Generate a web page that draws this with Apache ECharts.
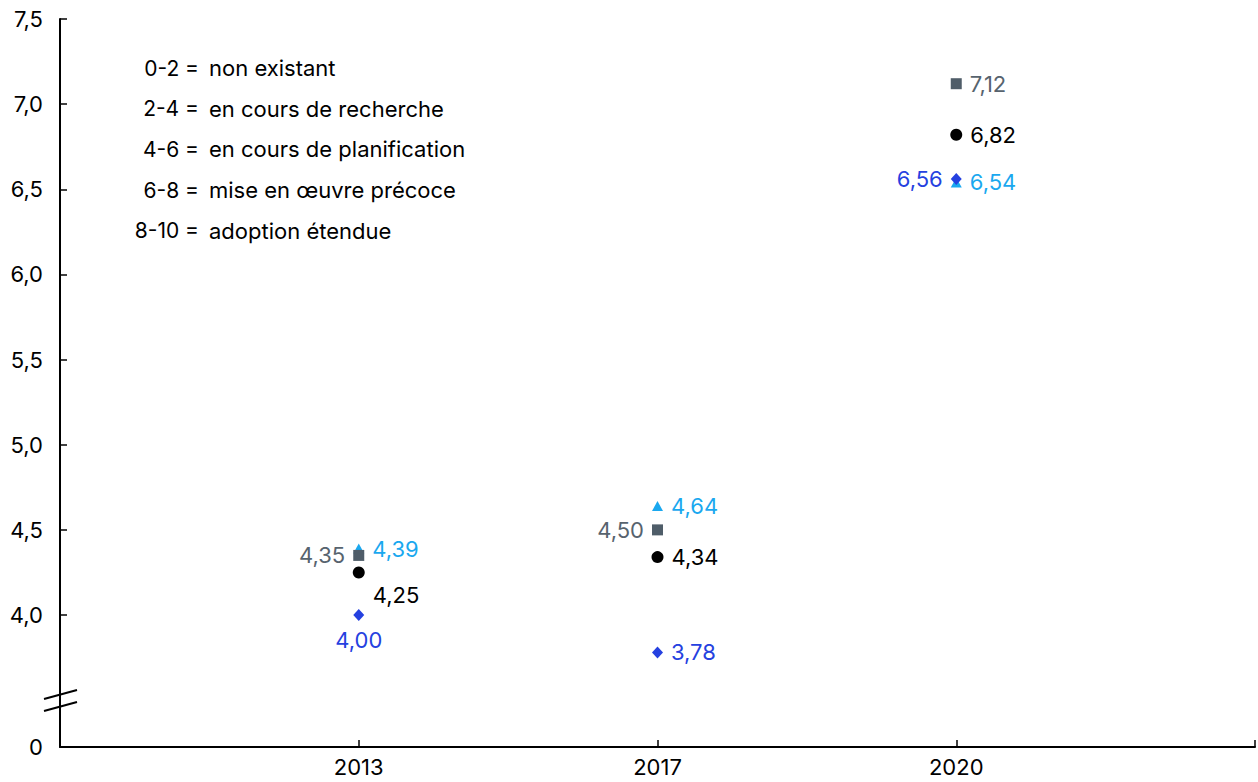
<!DOCTYPE html>
<html>
<head>
<meta charset="utf-8">
<script src="https://cdn.jsdelivr.net/npm/echarts@6/dist/echarts.min.js"></script>
<style>
  html, body { margin: 0; padding: 0; background: #fff; }
  #chart { width: 1258px; height: 782px; }
</style>
</head>
<body>
<div id="chart"></div>
<script>
// Survey years (padded with blank slots so the years sit inside the axis)
const years = ['2013', '2017', '2020'];
const xSlots = [''].concat(years, ['']);

// Average scores per group, one value per year
const seriesSquare   = [4.35, 4.50, 7.12];
const seriesCircle   = [4.25, 4.34, 6.82];
const seriesTriangle = [4.39, 4.64, 6.54];
const seriesDiamond  = [4.00, 3.78, 6.56];

// Y axis: broken scale, the bottom of the axis stands for 0
const yMin = 3.225;
const yMax = 7.5;
const yTickValues = [4.0, 4.5, 5.0, 5.5, 6.0, 6.5, 7.0, 7.5];
const yLabelValues = [yMin].concat(yTickValues);

// Scale key
const keyRanges = ['0-2 =', '2-4 =', '4-6 =', '6-8 =', '8-10 ='];
const keyTexts = ['non existant', 'en cours de recherche', 'en cours de planification',
                  'mise en œuvre précoce', 'adoption étendue'];

const FONT = 'Inter, "Liberation Sans", Arial, sans-serif';

function fmt(v) { return v.toFixed(2).replace('.', ','); }

// label placement per point (per year) for each group
const place = {
  square:   [{ position: 'left' }, { position: 'left' }, { position: 'right' }],
  circle:   [{ position: 'right', offset: [0, 23] }, { position: 'right' }, { position: 'right' }],
  triangle: [{ position: 'right' }, { position: 'right' }, { position: 'right' }],
  diamond:  [{ position: 'bottom', distance: 8 }, { position: 'right' }, { position: 'left' }]
};

function build(values, placement) {
  return values.map((v, i) => ({
    value: [years[i], v],
    label: Object.assign({ distance: 8 }, placement[i])
  }));
}

function scatter(name, values, placement, symbol, size, color, labelColor) {
  return {
    name: name,
    type: 'scatter',
    symbol: symbol,
    symbolSize: size,
    itemStyle: { color: color, opacity: 1 },
    label: {
      show: true,
      color: labelColor,
      fontFamily: FONT,
      fontSize: 22,
      formatter: p => fmt(p.value[1])
    },
    emphasis: { disabled: true },
    data: build(values, placement)
  };
}

const keyGraphics = [];
keyRanges.forEach((r, i) => {
  const y = 68 + i * 40.7;
  keyGraphics.push({
    type: 'text', x: 199, y: y,
    style: { text: r, fill: '#000', font: '21px ' + FONT, textAlign: 'right', textVerticalAlign: 'middle' }
  });
  keyGraphics.push({
    type: 'text', x: 209, y: y,
    style: { text: keyTexts[i], fill: '#000', font: '22px ' + FONT, textAlign: 'left', textVerticalAlign: 'middle' }
  });
});

// axis break marks
const breakMarks = [
  { type: 'line', shape: { x1: 44, y1: 699, x2: 77, y2: 690 }, style: { stroke: '#000', lineWidth: 2 } },
  { type: 'line', shape: { x1: 44, y1: 711, x2: 77, y2: 702 }, style: { stroke: '#000', lineWidth: 2 } }
];

const chart = echarts.init(document.getElementById('chart'), null, { renderer: 'svg' });
chart.setOption({
  animation: false,
  backgroundColor: '#fff',
  grid: { left: 60, right: 1, top: 19, bottom: 35, containLabel: false },
  xAxis: {
    type: 'category',
    data: xSlots,
    boundaryGap: false,
    axisLine: { lineStyle: { color: '#000', width: 2 } },
    axisTick: { show: true, inside: true, length: 7, lineStyle: { color: '#000', width: 1.5 } },
    axisLabel: { color: '#000', fontFamily: FONT, fontSize: 22, margin: 9, interval: 0 },
    splitLine: { show: false }
  },
  yAxis: {
    type: 'value',
    min: yMin,
    max: yMax,
    splitNumber: 9,
    minInterval: 0.5,
    maxInterval: 0.5,
    axisLine: { show: true, lineStyle: { color: '#000', width: 2 } },
    axisTick: { show: true, inside: true, length: 7, customValues: yTickValues,
                lineStyle: { color: '#000', width: 1.5 } },
    axisLabel: {
      color: '#000', fontFamily: FONT, fontSize: 22, margin: 17,
      customValues: yLabelValues,
      formatter: v => (v < 3.5 ? '0' : v.toFixed(1).replace('.', ','))
    },
    splitLine: { show: false }
  },
  series: [
    scatter('triangle', seriesTriangle, place.triangle, 'triangle', [11, 10], '#1aa8ef', '#1aa8ef'),
    scatter('square', seriesSquare, place.square, 'rect', 11, '#4f5d69', '#57636e'),
    scatter('circle', seriesCircle, place.circle, 'circle', 12, '#000000', '#000000'),
    scatter('diamond', seriesDiamond, place.diamond, 'diamond', [11, 12], '#2541e0', '#2541e0')
  ],
  graphic: keyGraphics.concat(breakMarks)
});
</script>
</body>
</html>
